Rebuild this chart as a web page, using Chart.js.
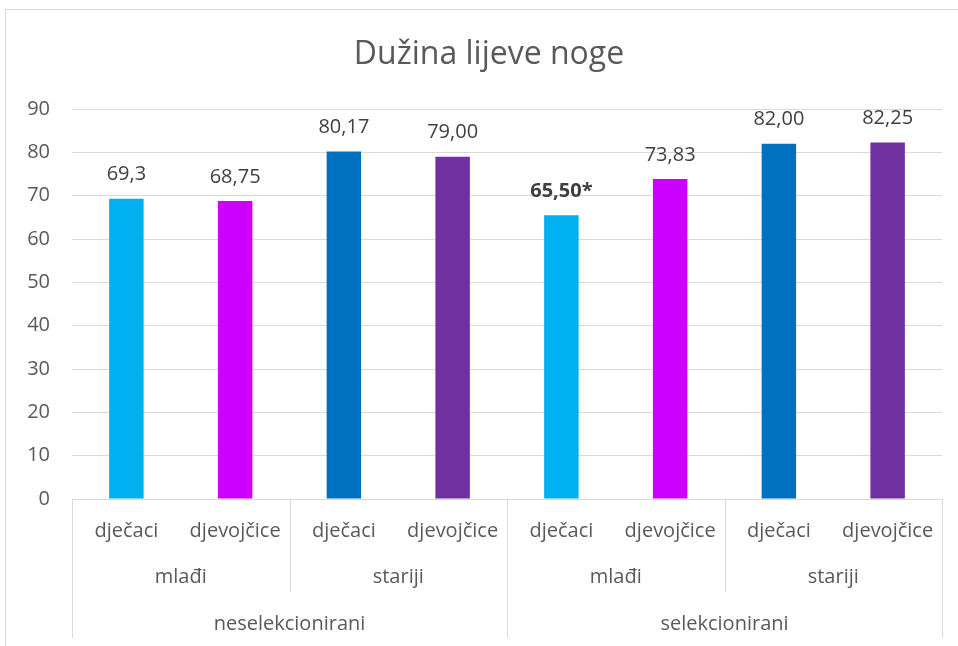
<!DOCTYPE html>
<html>
<head>
<meta charset="utf-8">
<script src="https://cdn.jsdelivr.net/npm/chart.js@4"></script>
<style>
  html, body { margin: 0; padding: 0; background: #fff; }
  #wrap { width: 958px; height: 646px; position: relative; }
</style>
</head>
<body>
<div id="wrap"><canvas id="legChart" width="958" height="646"></canvas></div>
<script>
// data
const chartTitle = 'Dužina lijeve noge';
const categories = ['dječaci', 'djevojčice', 'dječaci', 'djevojčice', 'dječaci', 'djevojčice', 'dječaci', 'djevojčice'];
const ageGroups = ['mlađi', 'stariji', 'mlađi', 'stariji'];
const selectionGroups = ['neselekcionirani', 'selekcionirani'];
const values = [69.3, 68.75, 80.17, 79.0, 65.5, 73.83, 82.0, 82.25];
const valueLabels = ['69,3', '68,75', '80,17', '79,00', '65,50*', '73,83', '82,00', '82,25'];
const boldLabels = [false, false, false, false, true, false, false, false];
const barColors = ['#00B0F0', '#CC00FF', '#0070C0', '#7030A0', '#00B0F0', '#CC00FF', '#0070C0', '#7030A0'];
const yTicks = [0, 10, 20, 30, 40, 50, 60, 70, 80, 90];

const FONT = "'Open Sans', 'Noto Sans', sans-serif";
const lineColor = '#D9D9D9';

// outer frame of the chart + title (the frame runs past the window, so the title sits right of canvas centre)
const framePlugin = {
    id: 'frame',
    beforeDraw(chart) {
        const ctx = chart.ctx;
        ctx.save();
        ctx.strokeStyle = lineColor;
        ctx.lineWidth = 1;
        ctx.strokeRect(5.5, 9.5, 1000, 700);
        ctx.fillStyle = '#595959';
        ctx.font = '32px ' + FONT;
        ctx.textAlign = 'center';
        ctx.textBaseline = 'middle';
        ctx.fillText(chartTitle, 489, 55);
        ctx.restore();
    }
};

// numbers above the bars
const valueLabelPlugin = {
    id: 'valueLabels',
    afterDatasetsDraw(chart) {
        const ctx = chart.ctx;
        const meta = chart.getDatasetMeta(0);
        ctx.save();
        ctx.fillStyle = '#404040';
        ctx.textAlign = 'center';
        ctx.textBaseline = 'middle';
        meta.data.forEach((bar, i) => {
            ctx.font = (boldLabels[i] ? 'bold ' : '') + '20px ' + FONT;
            ctx.fillText(valueLabels[i], bar.x, bar.y - 24);
        });
        ctx.restore();
    }
};

// second and third level of the category axis
const groupAxisPlugin = {
    id: 'groupAxis',
    afterDraw(chart) {
        const ctx = chart.ctx;
        const x = chart.scales.x;
        const top = chart.chartArea.bottom;
        const edge = i => x.getPixelForValue(i - 0.5);
        ctx.save();
        ctx.strokeStyle = lineColor;
        ctx.lineWidth = 1;
        for (let i = 0; i <= categories.length; i += 2) {
            const px = Math.round(edge(i)) + 0.5;
            const bottom = (i % 4 === 0) ? 638 : 592;
            ctx.beginPath();
            ctx.moveTo(px, top);
            ctx.lineTo(px, bottom);
            ctx.stroke();
        }
        ctx.fillStyle = '#595959';
        ctx.font = '20px ' + FONT;
        ctx.textAlign = 'center';
        ctx.textBaseline = 'middle';
        ageGroups.forEach((g, k) => {
            ctx.fillText(g, (edge(k * 2) + edge(k * 2 + 2)) / 2, 577);
        });
        selectionGroups.forEach((g, k) => {
            ctx.fillText(g, (edge(k * 4) + edge(k * 4 + 4)) / 2, 624);
        });
        ctx.restore();
    }
};

const ctx = document.getElementById('legChart').getContext('2d');
const legChart = new Chart(ctx, {
    type: 'bar',
    data: {
        labels: categories,
        datasets: [{
            data: values,
            backgroundColor: barColors,
            categoryPercentage: 1,
            barPercentage: 0.317
        }]
    },
    options: {
        responsive: false,
        animation: false,
        layout: { padding: { left: 0, right: 16, top: 109, bottom: 0 } },
        plugins: {
            legend: { display: false },
            tooltip: { enabled: false },
            title: { display: false }
        },
        scales: {
            x: {
                grid: { display: false, drawTicks: false },
                border: { display: false },
                ticks: {
                    color: '#595959',
                    font: { family: FONT, size: 20 },
                    padding: 20,
                    maxRotation: 0,
                    autoSkip: false
                },
                afterFit(scale) { scale.height = 147; }
            },
            y: {
                min: 0,
                max: 90,
                afterBuildTicks(scale) { scale.ticks = yTicks.map(v => ({ value: v })); },
                grid: { color: lineColor, drawTicks: false },
                border: { display: false },
                ticks: {
                    color: '#595959',
                    font: { family: FONT, size: 20 },
                    padding: 22
                },
                afterFit(scale) { scale.width = 72; }
            }
        }
    },
    plugins: [framePlugin, valueLabelPlugin, groupAxisPlugin]
});
</script>
</body>
</html>
